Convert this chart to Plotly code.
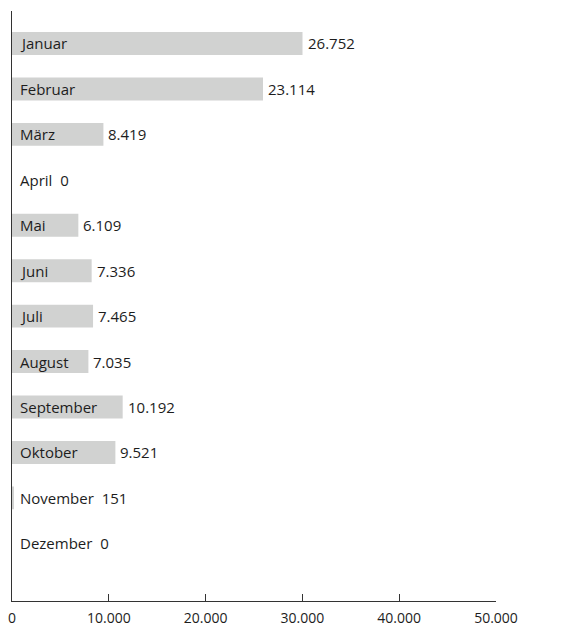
import plotly.graph_objects as go

months = ["Januar", "Februar", "März", "April", "Mai", "Juni", "Juli",
          "August", "September", "Oktober", "November", "Dezember"]
values = [26752, 23114, 8419, 0, 6109, 7336, 7465, 7035, 10192, 9521, 151, 0]
tick_vals = [0, 10000, 20000, 30000, 40000, 50000]

FONT = "Open Sans"
TXT = "#1d1d1d"
BAR = "#d1d2d1"
FS = 15

BAR_MAX = 44570      # range of the (hidden) bar axis
PLOT_W = 484         # plot width in px

def de(v):
    return f"{v:,}".replace(",", ".")

fig = go.Figure()
fig.add_trace(go.Bar(
    x=values, y=list(range(len(months))), orientation="h",
    marker=dict(color=BAR, line=dict(width=0)),
    xaxis="x", yaxis="y", hoverinfo="skip", width=0.505,
))
fig.add_trace(go.Scatter(x=[0, 50000], y=[0, 0], xaxis="x2", yaxis="y",
                         mode="markers", marker=dict(opacity=0), hoverinfo="skip",
                         showlegend=False))

ann = []
for i, (m, v) in enumerate(zip(months, values)):
    bar_px = v / BAR_MAX * PLOT_W
    label_px = len(m) * 8.6 + 14
    if bar_px < label_px:
        ann.append(dict(x=0, y=i, xref="x", yref="y", text=f"{m}\u00a0\u00a0{de(v)}",
                        showarrow=False, xanchor="left", xshift=6,
                        font=dict(family=FONT, size=FS, color=TXT)))
    else:
        ann.append(dict(x=0, y=i, xref="x", yref="y", text=m,
                        showarrow=False, xanchor="left", xshift=6,
                        font=dict(family=FONT, size=FS, color=TXT)))
        ann.append(dict(x=v, y=i, xref="x", yref="y", text=de(v),
                        showarrow=False, xanchor="left", xshift=3,
                        font=dict(family=FONT, size=FS, color=TXT)))

fig.update_layout(
    width=583, height=630,
    margin=dict(l=12, r=87, t=11, b=29, autoexpand=False),
    plot_bgcolor="white", paper_bgcolor="white",
    showlegend=False,
    separators=",.",
    bargap=0.49,
    annotations=ann,
    xaxis=dict(range=[0, BAR_MAX], visible=False, fixedrange=True, automargin=False),
    xaxis2=dict(range=[0, 50000], overlaying="x", anchor="y", side="bottom",
                tickvals=tick_vals, tickformat=",d", automargin=False,
                showline=True, linecolor="#333333", linewidth=1,
                ticks="inside", ticklen=7, tickcolor="#333333", tickwidth=1,
                ticklabelstandoff=4,
                showgrid=False, zeroline=False,
                tickfont=dict(family=FONT, size=14, color=TXT)),
    yaxis=dict(range=[12.27, -0.715], showticklabels=False, showgrid=False,
               automargin=False,
               zeroline=False, showline=True, linecolor="#333333", linewidth=1,
               ticks=""),
)

fig.write_html("out.html")
